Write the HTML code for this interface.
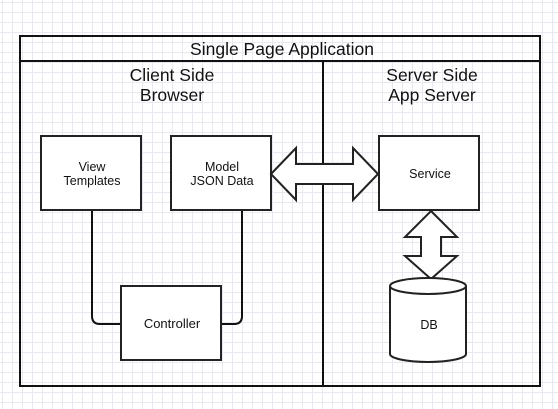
<!DOCTYPE html>
<html><head><style>
body{margin:0;width:558px;height:409px;overflow:hidden;background:#fff;
background-image:linear-gradient(#e8e8f0 1px,transparent 1px),linear-gradient(90deg,#e8e8f0 1px,transparent 1px);
background-size:10px 10px;background-position:2px 2px;}
svg{position:absolute;left:0;top:0}
text{font-family:"Liberation Sans",sans-serif;fill:#111}
</style></head><body>
<svg width="558" height="409" viewBox="0 0 558 409">
<g stroke="#111" stroke-width="2" fill="none">
<rect x="20" y="36" width="520" height="350"/>
<line x1="20" y1="61" x2="540" y2="61"/>
<line x1="323" y1="61" x2="323" y2="386"/>
<path d="M92 210 V316 Q92 324 100 324 H121"/>
<path d="M242 210 V316 Q242 324 234 324 H221"/>
</g>
<g stroke="#222" stroke-width="2" fill="#fff">
<rect x="41" y="136" width="100" height="74"/>
<rect x="171" y="136" width="100" height="74"/>
<rect x="379" y="136" width="100" height="74"/>
<rect x="121" y="286" width="100" height="74"/>
<path d="M271 174 L296 148 V164 H353 V148 L378 174 L353 200 V184 H296 V200 Z"/>
<path d="M431 211 L457 237 H441 V256 H457 L431 279 L405 256 H421 V237 H405 Z"/>
<path d="M390 286 V354 A38 8 0 0 0 466 354 V286"/>
<ellipse cx="428" cy="286" rx="38" ry="8"/>
</g>
<text x="282" y="55" font-size="17.5" text-anchor="middle">Single Page Application</text>
<text x="172" y="81" font-size="17.5" text-anchor="middle">Client Side</text>
<text x="172" y="101" font-size="17.5" text-anchor="middle">Browser</text>
<text x="432" y="81" font-size="17.5" text-anchor="middle">Server Side</text>
<text x="432" y="101" font-size="17.5" text-anchor="middle">App Server</text>
<text x="92" y="171" font-size="12.5" text-anchor="middle">View</text>
<text x="92" y="185" font-size="12.5" text-anchor="middle">Templates</text>
<text x="222" y="171" font-size="12.5" text-anchor="middle">Model</text>
<text x="222" y="185" font-size="12.5" text-anchor="middle">JSON Data</text>
<text x="430" y="178" font-size="12.5" text-anchor="middle">Service</text>
<text x="172" y="328" font-size="13" text-anchor="middle">Controller</text>
<text x="429" y="329" font-size="12.5" text-anchor="middle">DB</text>
</svg>
</body></html>
